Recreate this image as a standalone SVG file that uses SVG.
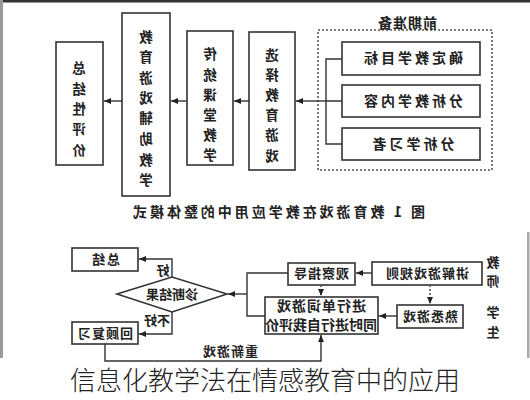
<svg xmlns="http://www.w3.org/2000/svg" width="530" height="400" viewBox="0 0 530 400">
<style>
.box{fill:#fff;stroke:#333;stroke-width:1.6}
.ln{fill:none;stroke:#333;stroke-width:1.4}
.dot{fill:none;stroke:#555;stroke-width:1.6;stroke-dasharray:2 2}
.t{font-family:"Noto Sans CJK SC","Liberation Sans",sans-serif;font-weight:bold;fill:#222;font-size:14px;text-anchor:middle}
.v{font-size:13.5px}
.s{font-size:13px}
.cap{font-family:"Noto Sans CJK SC","Liberation Sans",sans-serif;font-weight:300;fill:#222;font-size:26px;text-anchor:middle}
</style>
<defs>
<marker id="ah" markerWidth="7" markerHeight="6" refX="7" refY="3" orient="auto" markerUnits="userSpaceOnUse">
<path d="M0,0 L7,3 L0,6 z" fill="#222"/>
</marker>
</defs>
<rect width="530" height="400" fill="#fff"/>
<rect x="0" y="0" width="530" height="2.5" fill="#333"/>
<rect x="0" y="0" width="3" height="358" fill="#999"/>
<rect x="527" y="232" width="2.5" height="126" fill="#aaa"/>

<!-- Upper figure -->
<g id="prep">
<rect x="318" y="30" width="174" height="140" class="dot" fill="none"/>
<text class="t" transform="translate(407,28) scale(-1,1)" letter-spacing="1">前期准备</text>
</g>
<g id="goal"><rect x="342" y="42" width="138" height="33" class="box"/><text class="t" transform="translate(412,63) scale(-1,1)" letter-spacing="3">确定教学目标</text></g>
<g id="content"><rect x="342" y="85" width="138" height="32" class="box"/><text class="t" transform="translate(412,106) scale(-1,1)" letter-spacing="3">分析教学内容</text></g>
<g id="learner"><rect x="342" y="128" width="138" height="32" class="box"/><text class="t" transform="translate(412,149) scale(-1,1)" letter-spacing="3">分析学习者</text></g>

<g id="select"><rect x="249" y="32" width="46" height="138" class="box"/>
<text class="t v" transform="translate(272,0) scale(-1,1)"><tspan x="0" y="60">选</tspan><tspan x="0" y="80">择</tspan><tspan x="0" y="100">教</tspan><tspan x="0" y="120">育</tspan><tspan x="0" y="140">游</tspan><tspan x="0" y="161">戏</tspan></text></g>
<g id="traditional"><rect x="187" y="31" width="46" height="134" class="box"/>
<text class="t v" transform="translate(210,0) scale(-1,1)"><tspan x="0" y="59">传</tspan><tspan x="0" y="80">统</tspan><tspan x="0" y="100">课</tspan><tspan x="0" y="120">堂</tspan><tspan x="0" y="140">教</tspan><tspan x="0" y="160">学</tspan></text></g>
<g id="gameaided"><rect x="122" y="13" width="48" height="183" class="box"/>
<text class="t v" transform="translate(146,0) scale(-1,1)"><tspan x="0" y="42">教</tspan><tspan x="0" y="62">育</tspan><tspan x="0" y="83">游</tspan><tspan x="0" y="103">戏</tspan><tspan x="0" y="123">辅</tspan><tspan x="0" y="144">助</tspan><tspan x="0" y="165">教</tspan><tspan x="0" y="185">学</tspan></text></g>
<g id="summary"><rect x="56" y="42" width="47" height="123" class="box"/>
<text class="t v" transform="translate(79,0) scale(-1,1)"><tspan x="0" y="73">总</tspan><tspan x="0" y="94">结</tspan><tspan x="0" y="114">性</tspan><tspan x="0" y="134">评</tspan><tspan x="0" y="155">价</tspan></text></g>

<g id="caption1"><text class="t" font-size="15" transform="translate(279,217) scale(-1,1)" textLength="292" lengthAdjust="spacing">图 1  教育游戏在教学应用中的整体模式</text></g>

<!-- Lower figure -->
<g id="teach-rules"><rect x="372" y="262" width="110" height="23" class="box"/><text class="t s" transform="translate(427,278) scale(-1,1)" letter-spacing="1">讲解游戏规则</text></g>
<g id="observe"><rect x="288" y="263" width="67" height="22" class="box"/><text class="t s" transform="translate(321,278) scale(-1,1)" letter-spacing="1">观察指导</text></g>
<g id="familiar"><rect x="397" y="305" width="66" height="23" class="box"/><text class="t s" transform="translate(430,321) scale(-1,1)" letter-spacing="1">熟悉游戏</text></g>
<g id="play"><rect x="265" y="297" width="113" height="37" class="box"/>
<text class="t" font-size="12" transform="translate(321,0) scale(-1,1)"><tspan x="0" y="311" letter-spacing="1">进行单词游戏</tspan><tspan x="0" y="330">同时进行自我评价</tspan></text></g>
<g id="diagnose"><polygon points="117,294 172,277 227,294 172,312" class="box"/><text class="t s" transform="translate(172,299) scale(-1,1)">诊断结果</text></g>
<g id="sum2"><rect x="72" y="248" width="66" height="23" class="box"/><text class="t s" transform="translate(105,264) scale(-1,1)" letter-spacing="2">总结</text></g>
<g id="review"><rect x="72" y="322" width="66" height="22" class="box"/><text class="t s" transform="translate(105,338) scale(-1,1)" letter-spacing="1">回顾复习</text></g>
<g id="role-teacher"><text class="t s" transform="translate(493,0) scale(-1,1)"><tspan x="0" y="267">教</tspan><tspan x="0" y="286">师</tspan></text></g>
<g id="role-student"><text class="t s" transform="translate(493,0) scale(-1,1)"><tspan x="0" y="317">学</tspan><tspan x="0" y="337">生</tspan></text></g>

<g id="connectors">
<path class="ln" d="M342,59 H326 V144 H342 M342,101 H326"/>
<line class="ln" x1="326" y1="101" x2="296" y2="101" marker-end="url(#ah)"/>
<line class="ln" x1="249" y1="101" x2="234" y2="101" marker-end="url(#ah)"/>
<line class="ln" x1="187" y1="101" x2="171" y2="101" marker-end="url(#ah)"/>
<line class="ln" x1="122" y1="101" x2="104" y2="101" marker-end="url(#ah)"/>

<line class="ln" x1="372" y1="273" x2="356" y2="273" marker-end="url(#ah)"/>
<line class="ln" x1="397" y1="316" x2="379" y2="316" marker-end="url(#ah)"/>
<line class="dot" x1="430" y1="285" x2="430" y2="304" marker-end="url(#ah)"/>
<line class="dot" x1="321" y1="285" x2="321" y2="296" marker-end="url(#ah)"/>
<path class="ln" d="M288,273 H247 V316 H265"/>
<line class="ln" x1="247" y1="294" x2="228" y2="294" marker-end="url(#ah)"/>
<path class="ln" d="M172,277 V259 H139" marker-end="url(#ah)"/>
<path class="ln" d="M172,312 V334 H139" marker-end="url(#ah)"/>
<path class="ln" d="M105,344 V361 H321 V335" marker-end="url(#ah)"/>
<text class="t s" transform="translate(163,275) scale(-1,1)">好</text>
<text class="t s" transform="translate(157,325) scale(-1,1)">不好</text>
<text class="t s" transform="translate(230,356) scale(-1,1)" letter-spacing="1">重新游戏</text>
</g>

<text class="cap" x="265" y="390">信息化教学法在情感教育中的应用</text>
</svg>
